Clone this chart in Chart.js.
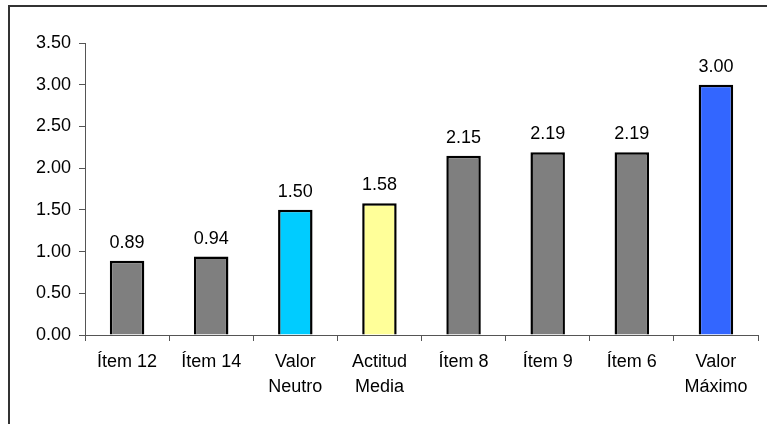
<!DOCTYPE html>
<html>
<head>
<meta charset="utf-8">
<script src="https://cdn.jsdelivr.net/npm/chart.js@4/dist/chart.umd.min.js"></script>
<style>
  html, body { margin: 0; padding: 0; background: #fff; overflow: hidden; }
  #frame { position: absolute; left: 8px; top: 5px; width: 800px; height: 500px; border-left: 2px solid #333; border-top: 2px solid #333; }
  canvas { position: absolute; left: 0; top: 0; }
</style>
</head>
<body>
<div id="frame"></div>
<canvas id="c" width="767" height="424"></canvas>
<script>
const categories = ['Ítem 12', 'Ítem 14', ['Valor', 'Neutro'], ['Actitud', 'Media'], 'Ítem 8', 'Ítem 9', 'Ítem 6', ['Valor', 'Máximo']];
const values = [0.89, 0.94, 1.50, 1.58, 2.15, 2.19, 2.19, 3.00];
const barColors = ['#7f7f7f', '#7f7f7f', '#00ccff', '#ffff99', '#7f7f7f', '#7f7f7f', '#7f7f7f', '#3366ff'];
const yTicks = [0, 0.5, 1, 1.5, 2, 2.5, 3, 3.5];

const FONT = 'Liberation Sans, Arial, sans-serif';

// Writes each bar's value above it
const valueLabels = {
  id: 'valueLabels',
  afterDatasetsDraw(chart) {
    const ctx = chart.ctx;
    const meta = chart.getDatasetMeta(0);
    ctx.save();
    ctx.font = '18px ' + FONT;
    ctx.fillStyle = '#000';
    ctx.textAlign = 'center';
    ctx.textBaseline = 'bottom';
    meta.data.forEach((bar, i) => {
      ctx.fillText(values[i].toFixed(2), bar.x, bar.y - 9);
    });
    ctx.restore();
  }
};

new Chart(document.getElementById('c'), {
  type: 'bar',
  data: {
    labels: categories,
    datasets: [{
      data: values,
      backgroundColor: barColors,
      borderColor: '#000',
      borderWidth: 2.5,
      categoryPercentage: 1,
      barPercentage: 0.41
    }]
  },
  options: {
    responsive: false,
    animation: false,
    layout: { padding: { left: 8, right: 9, top: 43, bottom: 0 } },
    plugins: { legend: { display: false }, tooltip: { enabled: false } },
    scales: {
      x: {
        offset: true,
        grid: { offset: true, drawOnChartArea: false, tickLength: 6, color: '#555' },
        border: { color: '#555', width: 1 },
        ticks: { color: '#000', font: { family: FONT, size: 18, lineHeight: 1.4 }, padding: 8, maxRotation: 0, autoSkip: false },
        afterFit(scale) { scale.height = 89; }
      },
      y: {
        min: 0,
        max: 3.5,
        afterBuildTicks(scale) { scale.ticks = yTicks.map(v => ({ value: v })); },
        grid: { drawOnChartArea: false, tickLength: 6, color: '#555' },
        border: { color: '#555', width: 1 },
        ticks: { color: '#000', font: { family: FONT, size: 18 }, padding: 8, callback: v => Number(v).toFixed(2) },
        afterFit(scale) { scale.width = 77; }
      }
    }
  },
  plugins: [valueLabels]
});
</script>
</body>
</html>
